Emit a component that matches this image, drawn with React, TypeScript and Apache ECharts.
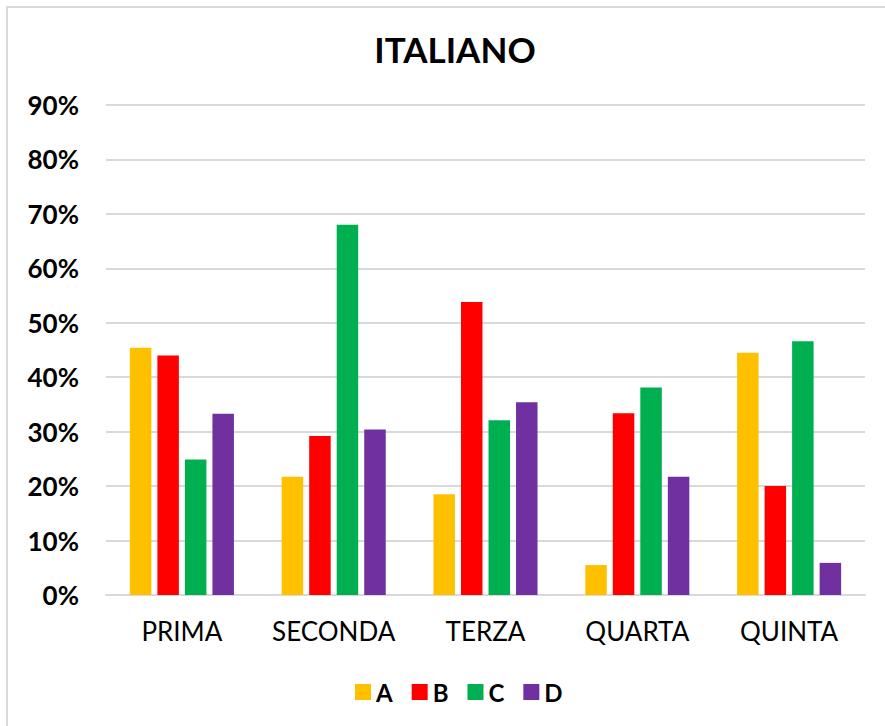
import React, { useEffect, useRef } from "react";
import * as echarts from "echarts";

const categories = ["PRIMA", "SECONDA", "TERZA", "QUARTA", "QUINTA"];
const seriesNames = ["A", "B", "C", "D"];
const valuesA = [45.4, 21.7, 18.5, 5.5, 44.5];
const valuesB = [44.0, 29.2, 53.8, 33.4, 20.0];
const valuesC = [24.9, 68.0, 32.1, 38.1, 46.6];
const valuesD = [33.3, 30.4, 35.4, 21.7, 5.9];
const colors = ["#FFC000", "#FF0000", "#00B050", "#7030A0"];
const yTicks = { min: 0, max: 90, interval: 10 };

export default function App() {
  const ref = useRef<HTMLDivElement>(null);
  useEffect(() => {
    if (!ref.current) return;
    const chart = echarts.init(ref.current, null, { renderer: "svg" });
    const all = [valuesA, valuesB, valuesC, valuesD];
    const font = "Lato";
    chart.setOption({
      animation: false,
      backgroundColor: "#ffffff",
      title: {
        text: "ITALIANO",
        left: 450,
        top: 26,
        textAlign: "center",
        textStyle: { fontFamily: font, fontWeight: "bold", fontSize: 35, color: "#000" },
      },
      graphic: [
        {
          type: "rect",
          shape: { x: 7, y: 7, width: 900, height: 800 },
          style: { fill: "none", stroke: "#d9d9d9", lineWidth: 2 },
          silent: true,
        },
      ],
      legend: {
        left: 350,
        top: 675,
        itemWidth: 16,
        itemHeight: 16,
        itemGap: 19,
        icon: "rect",
        textStyle: { fontFamily: font, fontWeight: "bold", fontSize: 24, color: "#000" },
        data: seriesNames,
      },
      grid: { left: 106, right: 20, top: 105, bottom: 131, containLabel: false },
      xAxis: {
        type: "category",
        data: categories,
        axisLine: { lineStyle: { color: "#d9d9d9", width: 2 } },
        axisTick: { show: false },
        axisLabel: { interval: 0, fontFamily: font, fontSize: 26, color: "#000", margin: 23 },
      },
      yAxis: {
        type: "value",
        min: yTicks.min,
        max: yTicks.max,
        interval: yTicks.interval,
        axisLine: { show: false },
        axisTick: { show: false },
        splitLine: { lineStyle: { color: "#d9d9d9", width: 2 } },
        axisLabel: {
          formatter: "{value}%",
          fontFamily: font,
          fontWeight: "bold",
          fontSize: 26,
          color: "#000",
          margin: 27,
        },
      },
      series: all.map((vals, i) => ({
        name: seriesNames[i],
        type: "bar",
        data: vals,
        barWidth: 21.5,
        barGap: "28%",
        itemStyle: { color: colors[i] },
      })),
    });
    return () => chart.dispose();
  }, []);
  return (
    <div
      ref={ref}
      style={{ position: "fixed", left: 0, top: 0, width: 885, height: 726 }}
    />
  );
}
